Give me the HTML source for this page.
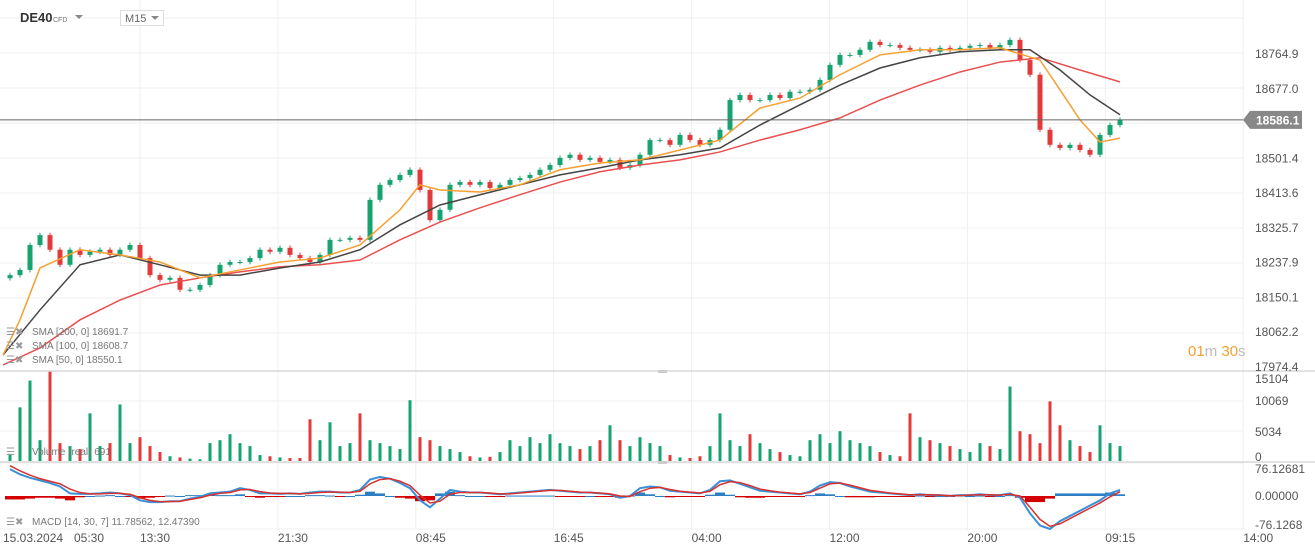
<!DOCTYPE html>
<html><head><meta charset="utf-8">
<style>
html,body{margin:0;padding:0;background:#fff;}
body{width:1315px;height:555px;overflow:hidden;position:relative;font-family:"Liberation Sans",sans-serif;}
svg{position:absolute;left:0;top:0;}
</style></head>
<body>
<svg id="chart" width="1315" height="555" viewBox="0 0 1315 555" font-family="Liberation Sans, sans-serif">
  <g id="grid"></g>
  <g id="vol"></g>
  <g id="macd"></g>
  <g id="candles"></g>
  <g id="smas"></g>
  <g id="axes"></g>
  <g>
    <text x="20" y="22" font-size="13" font-weight="bold" fill="#333">DE40</text>
    <text x="53" y="22" font-size="7" fill="#777">CFD</text>
    <path d="M75 15 L83 15 L79 19 Z" fill="#888"/>
    <rect x="120.5" y="10.5" width="43" height="15" fill="#fff" stroke="#ddd"/>
    <text x="125" y="22" font-size="11" fill="#666">M15</text>
    <path d="M151 16 L159 16 L155 20 Z" fill="#888"/>
  </g>
  <g>
    <g font-size="10" fill="#777">
      <text x="32" y="335">SMA [200, 0] 18691.7</text>
      <text x="32" y="349">SMA [100, 0] 18608.7</text>
      <text x="32" y="363">SMA [50, 0] 18550.1</text>
      <text x="32" y="455">Volume (real) 691</text>
      <text x="32" y="525">MACD [14, 30, 7] 11.78562,  12.47390</text>
    </g>
    <g fill="#999" font-size="10">
      <text x="6" y="335">☰✖</text><text x="6" y="349">☰✖</text><text x="6" y="363">☰✖</text><text x="6" y="455">☰</text><text x="6" y="525">☰✖</text>
    </g>
  </g>
  <text x="1188" y="356" font-size="15"><tspan fill="#f5a030">01</tspan><tspan fill="#bbb">m </tspan><tspan fill="#f5a030">30</tspan><tspan fill="#bbb">s</tspan></text>
</svg>
<script>
const closes=[18204,18217,18280,18305,18268,18230,18268,18255,18263,18268,
18255,18268,18280,18247,18204,18192,18197,18167,18167,18179,
18204,18230,18237,18237,18247,18268,18263,18273,18255,18247,
18237,18255,18293,18293,18298,18293,18394,18432,18444,18457,
18470,18419,18343,18369,18432,18439,18432,18439,18424,18432,
18444,18449,18457,18470,18482,18500,18508,18495,18500,18490,
18495,18475,18482,18508,18545,18545,18533,18558,18545,18533,
18545,18571,18646,18659,18646,18646,18659,18651,18667,18667,
18672,18697,18735,18760,18760,18773,18793,18785,18785,18778,
18773,18773,18768,18778,18773,18778,18783,18785,18778,18785,
18798,18747,18710,18571,18533,18525,18533,18520,18508,18558,
18583,18596];
const sma50=[18002,18091,18222,18268,18255,18237,18197,18217,18237,18247,18280,18369,18432,18419,18414,18432,18470,18487,18495,18520,18545,18626,18651,18710,18760,18773,18773,18778,18747,18672,18596,18540,18550];
const sma100=[18002,18116,18230,18255,18230,18204,18204,18222,18237,18268,18331,18381,18407,18432,18457,18475,18495,18508,18525,18583,18634,18684,18727,18753,18768,18773,18773,18722,18659,18609];
const sma200=[17977,18020,18091,18141,18179,18197,18212,18225,18230,18242,18293,18338,18374,18407,18439,18465,18482,18495,18515,18545,18571,18601,18646,18684,18717,18742,18753,18722,18692];
const sma50x=[3,20,40,80,120,160,200,240,280,320,360,400,420,440,480,520,560,600,640,680,720,760,800,840,880,920,960,1000,1040,1060,1080,1100,1120];
const sma100x=[3,40,80,120,160,200,240,280,320,360,400,440,480,520,560,600,640,680,720,760,800,840,880,920,960,1000,1030,1060,1090,1120];
const sma200x=[3,40,80,120,160,200,240,280,320,360,400,440,480,520,560,600,640,680,720,760,800,840,880,920,960,1000,1040,1080,1120];
const volumes=[1200,9000,13500,3500,15104,3000,2500,2000,8000,2500,
3000,9500,3000,4000,2500,1500,800,600,400,300,
3000,3500,4500,3000,2500,1000,800,600,500,500,
7000,3500,6500,2500,3000,8000,3500,3000,2500,2000,
10200,4000,3500,2500,2000,1500,800,600,700,1500,
3500,2500,4000,3000,4500,3000,2500,2000,2500,3500,
6000,3500,2500,4000,3000,2500,1000,600,500,800,
2500,8000,3500,2500,4500,3000,2000,1500,1000,800,
3500,4500,3000,5000,3500,3000,2500,1500,1000,800,
8000,4000,3500,3000,2500,2000,1500,3000,2500,2000,
12500,5000,4500,3000,10000,6000,3500,2500,1500,6000,
3000,2500];
const macdVals=[62,50,42,36,30,22,6,5,5,6,8,6,2,-10,-14,-14,-12,-12,-6,-2,6,8,10,18,14,6,6,5,6,5,8,10,10,8,8,14,38,44,40,30,18,-10,-26,-6,14,10,8,8,6,4,6,8,10,12,14,12,10,8,8,6,4,-4,0,18,22,20,12,10,8,6,14,34,36,28,20,12,10,8,6,4,10,24,32,30,22,16,10,8,6,4,2,4,2,2,0,2,2,4,2,2,6,-4,-40,-68,-76,-58,-46,-34,-22,-10,6,14];
const signalVals=[70,58,48,40,34,28,16,8,5,5,6,6,4,-4,-10,-13,-13,-12,-8,-4,2,6,8,14,15,10,7,6,6,5,6,8,9,9,8,11,28,38,40,34,24,2,-16,-12,4,8,8,8,7,5,5,7,9,11,13,13,11,9,8,7,5,0,-1,10,18,20,15,11,9,7,11,26,33,31,24,16,12,9,7,5,8,18,28,30,25,19,13,10,7,5,3,3,3,2,1,1,2,3,3,2,4,0,-26,-54,-70,-64,-52,-40,-28,-16,-2,10];
const timeLabels=["13:30","21:30","08:45","16:45","04:00","12:00","20:00","09:15","14:00"];
const priceTicks=[18764.9,18677.0,18501.4,18413.6,18325.7,18237.9,18150.1,18062.2,17974.4];
const volTicks=[15104,10069,5034,0];
const macdTicks=[76.12681,0,-76.1268];

const NS="http://www.w3.org/2000/svg";
function mk(tag,attrs,parent){const e=document.createElementNS(NS,tag);for(const k in attrs)e.setAttribute(k,attrs[k]);parent.appendChild(e);return e;}
const yP=p=>53+(18764.9-p)*313/790.5;
const xI=i=>10+i*10;
const yV=v=>461-v*90/15104;
const yM=v=>496-v*33/76.12681;
const grid=document.getElementById('grid'),axes=document.getElementById('axes');
// horizontal grid
[18,53,88,123,158,193,228,263,298,333].forEach(y=>{const l=mk('line',{x1:0,x2:1243,y1:y,y2:y,stroke:'#efefef'},grid);});
[401,431,463,529].forEach(y=>{const l=mk('line',{x1:0,x2:1243,y1:y,y2:y,stroke:'#efefef'},grid);});
timeLabels.forEach((t,i)=>{const x=140+i*137.9;const l=mk('line',{x1:x,x2:x,y1:0,y2:530,stroke:'#efefef'},grid);
const tx=mk('text',{x:x,y:542,'font-size':12,fill:'#555'},axes);tx.textContent=t;});
[["15.03.2024",3],["05:30",74]].forEach(([t,x])=>{const tx=mk('text',{x:x,y:542,'font-size':12,fill:'#555'},axes);tx.textContent=t;});
// pane separators
[371,462].forEach(y=>{const l=mk('line',{x1:0,x2:1315,y1:y,y2:y,stroke:'#d8d8d8','stroke-width':1.5},axes);});
mk('rect',{x:658,y:370,width:9,height:3,fill:'#ccc'},axes);
mk('rect',{x:658,y:461,width:9,height:3,fill:'#ccc'},axes);
// price ticks
priceTicks.forEach(p=>{const t=mk('text',{x:1255,y:yP(p)+5,'font-size':12,fill:'#555'},axes);t.textContent=p.toFixed(1);});
volTicks.forEach((v,i)=>{const ys=[383,405,436,461];const t=mk('text',{x:1255,y:ys[i],'font-size':12,fill:'#555'},axes);t.textContent=String(v);});
macdTicks.forEach((v,i)=>{const ys=[473,500,529];const t=mk('text',{x:1255,y:ys[i],'font-size':12,fill:'#555'},axes);t.textContent=i==0?'76.12681':i==1?'0.00000':'-76.1268';});
// current price line
const last=closes[closes.length-1];
const cl=mk('line',{x1:0,x2:1243,y1:yP(last),y2:yP(last),stroke:'#666'},axes);

mk('path',{d:`M1243 ${yP(last)} L1250 ${yP(last)-9} L1302 ${yP(last)-9} L1302 ${yP(last)+9} L1250 ${yP(last)+9} Z`,fill:'#888'},axes);
const cpt=mk('text',{x:1256,y:yP(last)+4.5,'font-size':12,'font-weight':'bold',fill:'#fff'},axes);cpt.textContent='18586.1';

// candles
const cg=document.getElementById('candles');
closes.forEach((c,i)=>{const o=i?closes[i-1]:c-8;const up=c>=o;const col=up?'#16a36f':'#e23a3a';const x=xI(i);
const hi=Math.max(o,c)+6,lo=Math.min(o,c)-6;
const w=mk('line',{x1:x,x2:x,y1:yP(hi),y2:yP(lo),stroke:col},cg);
const b=mk('rect',{x:x-2.5,y:yP(Math.max(o,c)),width:5,height:Math.max(1,yP(Math.min(o,c))-yP(Math.max(o,c))),fill:col},cg);
});
// SMAs
const sg=document.getElementById('smas');
[[sma200,sma200x,'#e8514f','sma200-line'],[sma100,sma100x,'#444','sma100-line'],[sma50,sma50x,'#f5a030','sma50-line']].forEach(([v,xs,col,n])=>{
const p=mk('polyline',{points:v.map((p,i)=>xs[i]+','+yP(p)).join(' '),fill:'none',stroke:col,'stroke-width':1.5},sg);
});
// volume
const vg=document.getElementById('vol');
volumes.forEach((v,i)=>{const up=i==0||closes[i]>=closes[i-1];
const r=mk('rect',{x:xI(i)-1.5,y:yV(v),width:3,height:461-yV(v),fill:up?'#16a36f':'#e23a3a'},vg);
});
// MACD
const mg=document.getElementById('macd');
macdVals.forEach((m,i)=>{const h=m-signalVals[i];const y0=yM(0),y1=yM(h);
const r=mk('rect',{x:xI(i)-5,y:Math.min(y0,y1),width:10,height:Math.max(1,Math.abs(y1-y0)),fill:h>=0?'#2c7fc4':'#d40000'},mg);
});
const ml=mk('polyline',{points:macdVals.map((v,i)=>xI(i)+','+yM(v)).join(' '),fill:'none',stroke:'#3a8fd6','stroke-width':2},mg);

const sl=mk('polyline',{points:signalVals.map((v,i)=>xI(i)+','+yM(v)).join(' '),fill:'none',stroke:'#d8312f','stroke-width':1.5},mg);

</script>
</body></html>
